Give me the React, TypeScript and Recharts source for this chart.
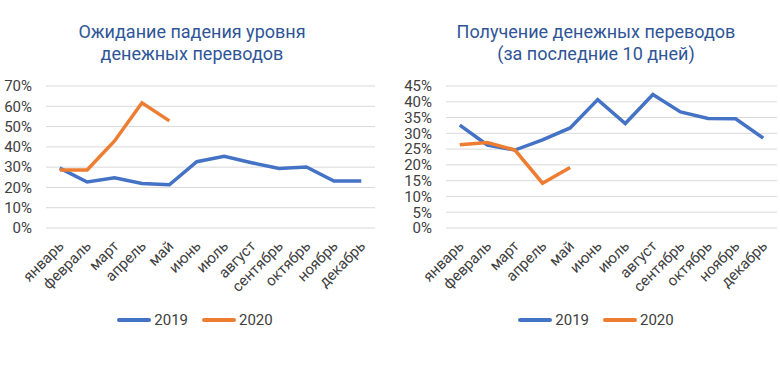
import React from 'react';
import { LineChart, Line, XAxis, YAxis, CartesianGrid, Legend } from 'recharts';

const months = ['январь', 'февраль', 'март', 'апрель', 'май', 'июнь', 'июль', 'август', 'сентябрь', 'октябрь', 'ноябрь', 'декабрь'];

// left: expectation of a fall in remittances, %
const expect2019 = [29.5, 22.7, 24.8, 21.9, 21.3, 32.7, 35.3, 32.2, 29.3, 30.1, 23.2, 23.2];
const expect2020 = [28.6, 28.6, 42.9, 61.7, 52.8];
const expectTicks = [0, 10, 20, 30, 40, 50, 60, 70];

// right: received remittances in the last 10 days, %
const receive2019 = [32.6, 26.3, 24.7, 27.9, 31.7, 40.7, 33.1, 42.3, 36.8, 34.7, 34.6, 28.5];
const receive2020 = [26.4, 27.1, 24.7, 14.2, 19.2];
const receiveTicks = [0, 5, 10, 15, 20, 25, 30, 35, 40, 45];

const BLUE = '#4472C4';
const ORANGE = '#ED7D31';
const TEXT = '#404040';

const toRows = (a: number[], b: number[]) =>
  months.map((m, i) => ({ month: m, y2019: a[i], y2020: i < b.length ? b[i] : null }));

const MonthTick = ({ x, y, payload }: any) => {
  const ax = x + 5;
  const ay = y + 19;
  return (
    <text x={ax} y={ay} transform={`rotate(-45 ${ax} ${ay})`} textAnchor="end" fill={TEXT} fontSize={15}>
      {payload.value}
    </text>
  );
};

const LegendContent = () => (
  <div style={{ display: 'flex', justifyContent: 'center', alignItems: 'center', fontSize: 15, color: TEXT, lineHeight: '20px' }}>
    {[{ name: '2019', color: BLUE }, { name: '2020', color: ORANGE }].map((s, i) => (
      <span key={s.name} style={{ display: 'flex', alignItems: 'center', marginLeft: i ? 14 : 0 }}>
        <span style={{ width: 34, height: 4, borderRadius: 2, background: s.color, marginRight: 3 }} />
        {s.name}
      </span>
    ))}
  </div>
);

interface PanelProps {
  rows: any[];
  ticks: number[];
  max: number;
  yWidth: number;
  right: number;
  legendWidth: number;
}

const Panel = ({ rows, ticks, max, yWidth, right, legendWidth }: PanelProps) => {
  const band = (390 - yWidth - right) / 12;
  return (
    <LineChart width={390} height={372} data={rows} margin={{ top: 86, right, bottom: 64, left: 0 }}>
      <CartesianGrid vertical={false} stroke="#d9d9d9" strokeWidth={1} />
      <XAxis
        dataKey="month"
        axisLine={false}
        tickLine={false}
        tickSize={0}
        tickMargin={0}
        height={60}
        interval={0}
        padding={{ left: band / 2, right: band / 2 }}
        tick={<MonthTick />}
      />
      <YAxis
        width={yWidth}
        domain={[0, max]}
        ticks={ticks}
        interval={0}
        axisLine={false}
        tickLine={false}
        tickSize={0}
        tickMargin={14}
        tickFormatter={(v: number) => `${v}%`}
        tick={{ fill: TEXT, fontSize: 15 }}
      />
      <Legend
        verticalAlign="bottom"
        height={20}
        content={<LegendContent />}
        wrapperStyle={{ top: 310, bottom: 'auto', left: 0, width: legendWidth }}
      />
      <Line dataKey="y2019" name="2019" stroke={BLUE} strokeWidth={3.5} dot={false} isAnimationActive={false} />
      <Line dataKey="y2020" name="2020" stroke={ORANGE} strokeWidth={3.5} dot={false} isAnimationActive={false} />
    </LineChart>
  );
};

const titleStyle: React.CSSProperties = {
  position: 'absolute',
  top: 21,
  width: 320,
  textAlign: 'center',
  fontSize: 18,
  lineHeight: '22px',
  color: '#2F5597',
};

export default function App() {
  return (
    <div style={{ position: 'absolute', left: 0, top: 0, width: 780, height: 372, background: '#fff', fontFamily: 'Roboto, sans-serif' }}>
      <div style={{ ...titleStyle, left: 192 - 160 }}>
        Ожидание падения уровня<br />денежных переводов
      </div>
      <div style={{ ...titleStyle, left: 596 - 160 }}>
        Получение денежных переводов<br />(за последние 10 дней)
      </div>
      <div style={{ position: 'absolute', left: 0, top: 0 }}>
        <Panel rows={toRows(expect2019, expect2020)} ticks={expectTicks} max={70} yWidth={46} right={15} legendWidth={390} />
      </div>
      <div style={{ position: 'absolute', left: 390, top: 0 }}>
        <Panel rows={toRows(receive2019, receive2020)} ticks={receiveTicks} max={45} yWidth={56} right={3} legendWidth={412} />
      </div>
    </div>
  );
}
